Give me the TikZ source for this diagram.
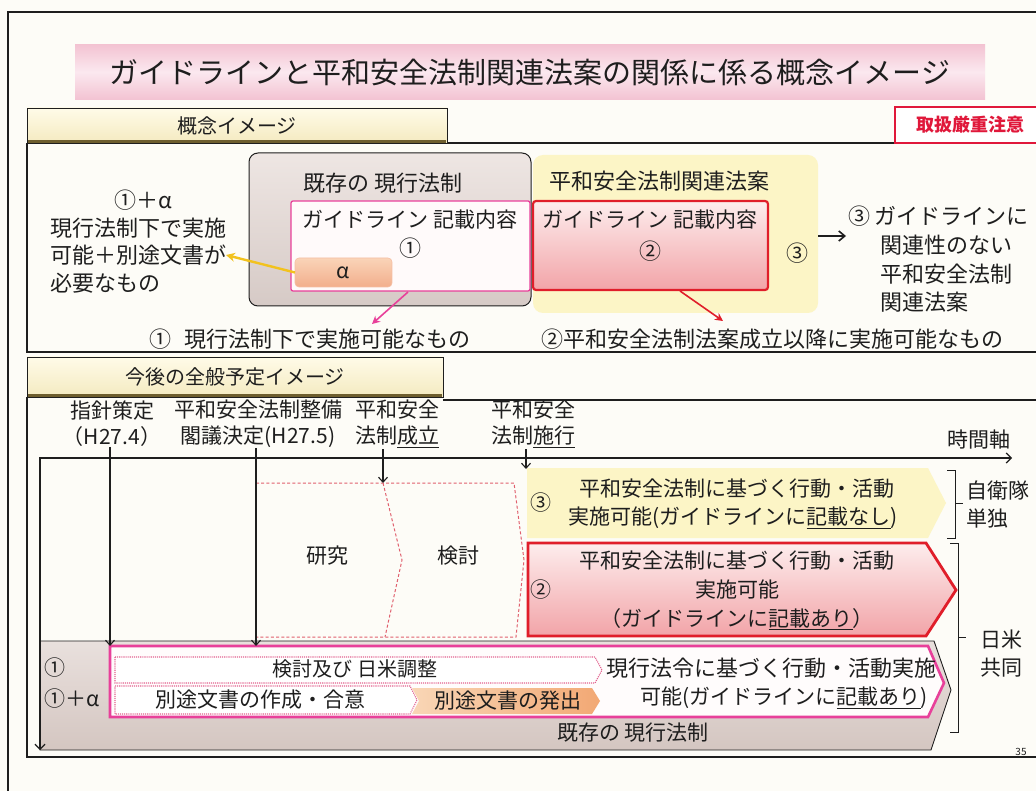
\documentclass[tikz,border=0pt]{standalone}
\usepackage{fontspec}
\setmainfont{Noto Sans CJK JP}
\usetikzlibrary{arrows.meta,calc}
\definecolor{ink}{HTML}{1E1E1E}
\definecolor{paper}{HTML}{FDFCF7}
\definecolor{titlepinkA}{HTML}{F3C3D2}
\definecolor{titlepinkB}{HTML}{FBE8EF}
\definecolor{creamA}{HTML}{FFFBE8}
\definecolor{creamB}{HTML}{F4EAC0}
\definecolor{shadowbrown}{HTML}{6E5E2E}
\definecolor{warnred}{HTML}{E0183A}
\definecolor{grayA}{HTML}{EEE6E3}
\definecolor{grayB}{HTML}{D6CAC6}
\definecolor{mgt}{HTML}{E8409A}
\definecolor{yel}{HTML}{FCF5C6}
\definecolor{redline}{HTML}{E01E2A}
\definecolor{redA}{HTML}{FDEDED}
\definecolor{redB}{HTML}{F2A4A8}
\definecolor{alphaA}{HTML}{FAD4B8}
\definecolor{alphaB}{HTML}{F2AE8C}
\definecolor{arrowyel}{HTML}{F2C21E}
\definecolor{dashred}{HTML}{E0606E}
\definecolor{dotpink}{HTML}{E2608E}
\definecolor{orA}{HTML}{F9D6B6}
\definecolor{orB}{HTML}{F2A874}
\definecolor{brownA}{HTML}{E9E0DD}
\definecolor{brownB}{HTML}{D4C6C1}
\begin{document}
\begin{tikzpicture}[x=1pt,y=-1pt,
  every node/.style={text=ink, inner sep=0pt, outer sep=0pt},
  txt/.style={font=\fontsize{21}{26}\selectfont},
  big/.style={font=\fontsize{22}{29}\selectfont},
  frameline/.style={draw=ink, line width=1.4pt},
  hdr/.style={draw=ink, line width=0.8pt, top color=creamA, bottom color=creamB, font=\fontsize{20}{24}\selectfont},
  arr/.style={draw=ink, line width=1.1pt, -{Straight Barb[length=5pt,width=9pt]}},
  dashbox/.style={draw=dashred, line width=1pt, dash pattern=on 3pt off 2.2pt},
  dotbox/.style={draw=dotpink, line width=1.1pt, densely dotted},
]
\useasboundingbox (0,0) rectangle (1036,791);
\fill[paper] (0,0) rectangle (1036,791);
% page frame
\draw[ink, line width=1.5pt] (8,791) -- (8,12) -- (1036,12);

% title
\node[top color=titlepinkA, bottom color=titlepinkA, middle color=titlepinkB,
      minimum width=910, minimum height=55, font=\fontsize{29}{32}\selectfont]
      (title) at (530,72) {ガイドラインと平和安全法制関連法案の関係に係る概念イメージ};

% ===== upper section =====
\draw[frameline] (27,143) -- (1036,143);
\draw[frameline] (27,143) -- (27,352) -- (1036,352);
\node[hdr, minimum width=420, minimum height=35] (hdrA) at (237,125.5) {概念イメージ};
\draw[shadowbrown, line width=3pt] (28,141.5) -- (446,141.5);
\node[draw=warnred, line width=1.8pt, fill=white, minimum width=150, minimum height=36,
      font=\fontsize{18}{20}\selectfont\bfseries, text=warnred] (warn) at (970,125) {取扱厳重注意};

% gray box (existing law)
\node[draw=ink, line width=1pt, rounded corners=9, top color=grayA, bottom color=grayB,
      minimum width=282, minimum height=153] (gray) at (390,229.5) {};
\node[big] (grayT) at (383,183) {既存の 現行法制};
% yellow box (bills)
\node[fill=yel, rounded corners=10, minimum width=285, minimum height=158] (yellow) at (675.5,234) {};
\node[big] (yellowT) at (659,181) {平和安全法制関連法案};
% pink box
\node[draw=mgt, line width=1.3pt, fill=white!92!pink, rounded corners=2,
      minimum width=239, minimum height=90] (pinkbox) at (410.5,246) {};
\node[txt] (pinkT) at (410,220) {ガイドライン 記載内容};
\node[big] (one) at (410,248) {①};
% alpha box
\node[draw=alphaB!80!white, line width=0.6pt, rounded corners=4, top color=alphaA, bottom color=alphaB,
      minimum width=97, minimum height=29, txt] (alpha) at (343.5,272.5) {α};
% red box
\node[draw=redline, line width=2.2pt, rounded corners=3, top color=redA, bottom color=redB,
      minimum width=235, minimum height=89] (redbox) at (650.5,245.5) {};
\node[txt] (redT) at (650,220) {ガイドライン 記載内容};
\node[big] (two) at (650,251) {②};
\node[big] (three) at (797,253) {③};

% left texts
\node[big] (lt0) at (143,200) {①＋α};
\node[big, anchor=west] (lt1) at (50,228) {現行法制下で実施};
\node[big, anchor=west] (lt2) at (50,255) {可能＋別途文書が};
\node[big, anchor=west] (lt3) at (50,283) {必要なもの};
% right texts
\node[big, anchor=west] (rt1) at (848,216) {③ ガイドラインに};
\node[big, anchor=west] (rt2) at (880,245) {関連性のない};
\node[big, anchor=west] (rt3) at (880,274) {平和安全法制};
\node[big, anchor=west] (rt4) at (880,302) {関連法案};
% bottom texts
\node[big] (bt1) at (310,339) {①\hspace{0.6em}現行法制下で実施可能なもの};
\node[big] (bt2) at (772,339) {②平和安全法制法案成立以降に実施可能なもの};

% upper arrows
\coordinate (pinkStart) at (408,292);
\coordinate (pinkEnd) at (372,324);
\coordinate (redStart) at (680,291);
\coordinate (redEnd) at (723,321);
\coordinate (blkEnd) at (846,236);
\draw[arrowyel, line width=2.4pt, -{Stealth[length=9pt,width=9pt]}] (alpha.west) -- (lt2.east);
\draw[mgt, line width=1.6pt, -{Stealth[length=8pt,width=8pt]}] (pinkStart) -- (pinkEnd);
\draw[redline, line width=1.6pt, -{Stealth[length=8pt,width=8pt]}] (redStart) -- (redEnd);
\draw[ink, line width=1.6pt, -{Straight Barb[length=6pt,width=10pt]}] (yellow.east |- blkEnd) -- (blkEnd);

% ===== lower section =====
\node[hdr, minimum width=416, minimum height=40] (hdrB) at (235,377) {今後の全般予定イメージ};
\draw[shadowbrown, line width=3pt] (28,395.5) -- (442,395.5);
\draw[frameline] (443,400) -- (1036,400);
\draw[frameline] (27,397) -- (27,757) -- (1036,757);

% event labels
\node[txt, align=center] (ev1) at (112,424) {指針策定\\（H27.4）};
\node[txt, align=center] (ev2) at (258,424) {平和安全法制整備\\閣議決定(H27.5)};
\node[txt, align=center] (ev3) at (397,424) {平和安全\\法制\underline{成立}};
\node[txt, align=center] (ev4) at (533,424) {平和安全\\法制\underline{施行}};
\node[txt] (axisT) at (979,440) {時間軸};

% brown chevron (existing law)
\path[draw=ink, line width=0.9pt, top color=brownA, bottom color=brownB]
  (40,641) -- (934,641) -- (951,690) -- (931,750) -- (40,750) -- cycle;
\node[txt] (brownT) at (633,733) {既存の 現行法制};

% pink chevron
\path[draw=mgt, line width=2.6pt, fill=white!95!pink]
  (110,646) -- (928,646) -- (944,683) -- (928,717) -- (110,717) -- cycle;
\path[dotbox, fill=white] (115,657) -- (595,657) -- (602,670) -- (595,683) -- (115,683) -- cycle;
\path[dotbox, fill=white] (115,686) -- (410,686) -- (417,700) -- (410,714) -- (115,714) -- cycle;
\path[left color=orA, right color=orB] (412,688) -- (592,688) -- (600,701) -- (592,714) -- (412,714) -- (419,701) -- cycle;
\node[font=\fontsize{20}{24}\selectfont] (rowA) at (355,669) {検討及び 日米調整};
\node[txt] (rowB) at (260,700) {別途文書の作成・合意};
\node[txt] (rowC) at (508,701) {別途文書の発出};
\node[big, anchor=east] (rowD) at (936,668) {現行法令に基づく行動・活動実施};
\node[txt, anchor=east] (rowE) at (928,698) {可能(ガイドラインに\underline{記載あり})};
\node[txt, anchor=west] (c1) at (44,668) {①};
\node[txt, anchor=west] (c2) at (44,699) {①＋α};

% research / study dashed region
\path[dashbox] (256,483) -- (514,483) -- (524,560) -- (516,637) -- (256,637);
\path[dashbox] (383,483) -- (402,560) -- (385,637);
\node[txt] (kenkyu) at (327,556) {研究};
\node[txt] (kento) at (458,556) {検討};

% yellow chevron (3)
\path[fill=yel] (527,468) -- (928,468) -- (946,503) -- (928,538) -- (527,538) -- cycle;
\node[txt] (y3) at (541,503) {③};
\node[txt] (yl1) at (737,489) {平和安全法制に基づく行動・活動};
\node[txt] (yl2) at (733,518) {実施可能(ガイドラインに\underline{記載なし})};

% red chevron (2)
\path[draw=redline, line width=2.8pt, top color=redA, bottom color=redB]
  (528,543) -- (926,543) -- (956,590) -- (926,636) -- (528,636) -- cycle;
\node[txt] (r2) at (541,590) {②};
\node[txt] (rl1) at (737,561) {平和安全法制に基づく行動・活動};
\node[txt] (rl2) at (737,590) {実施可能};
\node[txt] (rl3) at (737,619) {（ガイドラインに\underline{記載あり}）};

% axes
\coordinate (axO) at (40,458);
\coordinate (axR) at (1012,458);
\coordinate (axD) at (40,750);
\draw[ink, line width=1.2pt, {Straight Barb[length=5pt,width=10pt]}-{Straight Barb[length=5pt,width=10pt]}] (axR) -- (axO) -- (axD);

% event arrows
\coordinate (e1b) at (110,646);
\coordinate (e2b) at (256,646);
\coordinate (e3a) at (383,449);
\coordinate (e3b) at (383,483);
\coordinate (e4a) at (526,449);
\coordinate (e4b) at (526,469);
\draw[arr] (ev1.south -| e1b) -- (e1b);
\draw[arr] (ev2.south -| e2b) -- (e2b);
\draw[arr] (e3a) -- (e3b);
\draw[arr] (e4a) -- (e4b);

% brackets
\draw[ink, line width=1pt] (947,470) -- (955,470) -- (955,538) -- (947,538);
\draw[ink, line width=1pt] (955,503) -- (963,503);
\node[txt, anchor=west] (sdf1) at (966,491) {自衛隊};
\node[txt, anchor=west] (sdf2) at (966,519) {単独};
\draw[ink, line width=1pt] (950,543) -- (958,543) -- (958,732) -- (950,732);
\draw[ink, line width=1pt] (958,637) -- (966,637);
\node[txt] (jp1) at (1001,640) {日米};
\node[txt] (jp2) at (1001,668) {共同};

\node[font=\fontsize{10}{12}\selectfont] (pg) at (1021,752) {35};
\end{tikzpicture}
\end{document}
